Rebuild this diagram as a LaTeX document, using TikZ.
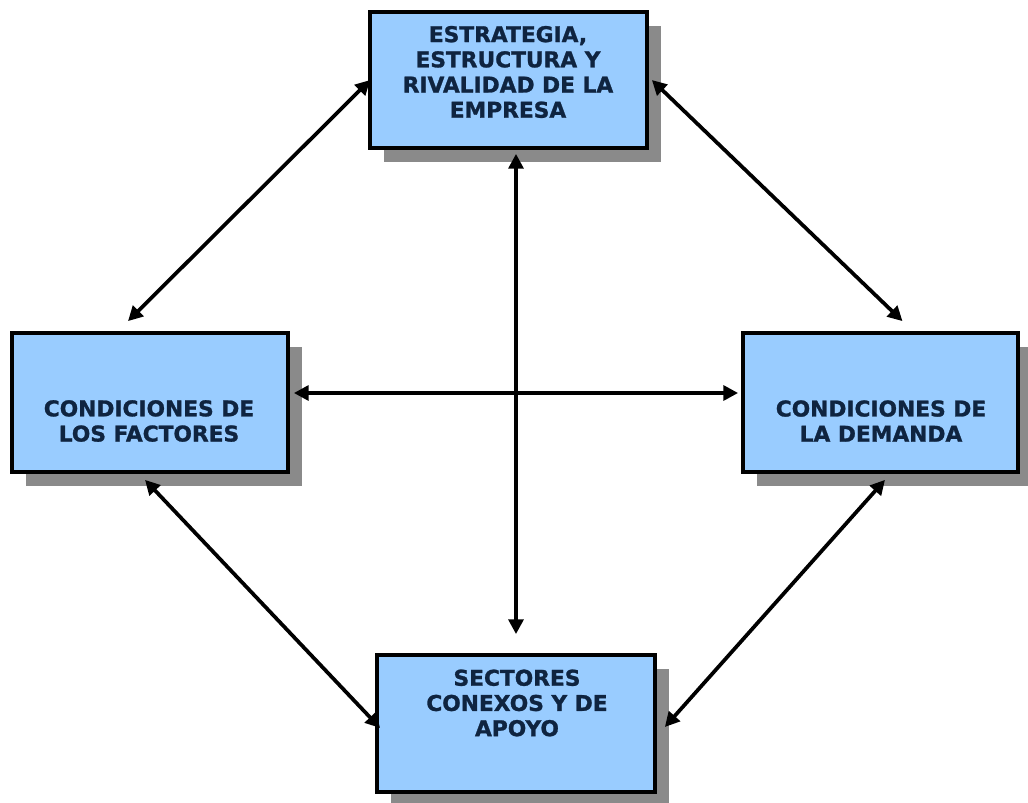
\documentclass[tikz,border=0pt]{standalone}
\usepackage{fontspec}
\newfontfamily\boxfont{DejaVu Sans}[BoldFeatures={FakeBold=1.2}]
\usetikzlibrary{arrows.meta,shadows,calc}
\definecolor{boxblue}{HTML}{99CCFF}
\definecolor{textnavy}{HTML}{0F2440}
\definecolor{shadowgray}{HTML}{8A8A8A}
\tikzset{
  box/.style={draw=black, line width=2.8pt, fill=boxblue, rectangle, inner sep=0pt,
    drop shadow={shadow xshift=10.5pt, shadow yshift=-10.5pt, fill=shadowgray, opacity=1}},
  boxtext/.style={align=center, text=textnavy, font=\boxfont\bfseries\fontsize{16.3}{18.9}\selectfont, inner sep=0pt},
  link/.style={line width=2.8pt, {Triangle[length=11pt,width=11pt]}-{Triangle[length=11pt,width=11pt]}}
}
\begin{document}
\begin{tikzpicture}[x=0.75pt,y=-0.75pt]
\useasboundingbox (0,0) rectangle (1028,803);
\fill[white] (0,0) rectangle (1028,803);
% boxes
\node[box, minimum width=277*0.75pt, minimum height=136*0.75pt] (T) at (508.5,80) {};
\node[box, minimum width=276*0.75pt, minimum height=139*0.75pt] (L) at (150,402.5) {};
\node[box, minimum width=275*0.75pt, minimum height=139*0.75pt] (R) at (880.5,402.5) {};
\node[box, minimum width=278*0.75pt, minimum height=137*0.75pt] (B) at (516,723.5) {};
% texts
\node[boxtext] (Tt) at (508,72) {ESTRATEGIA,\\ESTRUCTURA Y\\RIVALIDAD DE LA\\EMPRESA};
\node[boxtext] (Lt) at (149,421) {CONDICIONES DE\\LOS FACTORES};
\node[boxtext] (Rt) at (881,421) {CONDICIONES DE\\LA DEMANDA};
\node[boxtext] (Bt) at (517,703) {SECTORES\\CONEXOS Y DE\\APOYO};
% connectors
\draw[link] ($(L.north)+(-22,-10)$) -- ($(T.west)+(2,0)$);
\draw[link] ($(T.east)+(3,0)$) -- ($(R.north)+(22,-10)$);
\draw[link] ($(T.south)+(7.5,4)$) -- ($(B.north)+(0,-19)$);
\draw[link] ($(L.east)+(4,-9.5)$) -- ($(R.west)+(-3,-9.5)$);
\draw[link] ($(L.south)+(-5,6)$) -- ($(B.west)+(5,4.5)$);
\draw[link] ($(R.south)+(4.5,6)$) -- ($(B.east)+(8,3.5)$);
\end{tikzpicture}
\end{document}
